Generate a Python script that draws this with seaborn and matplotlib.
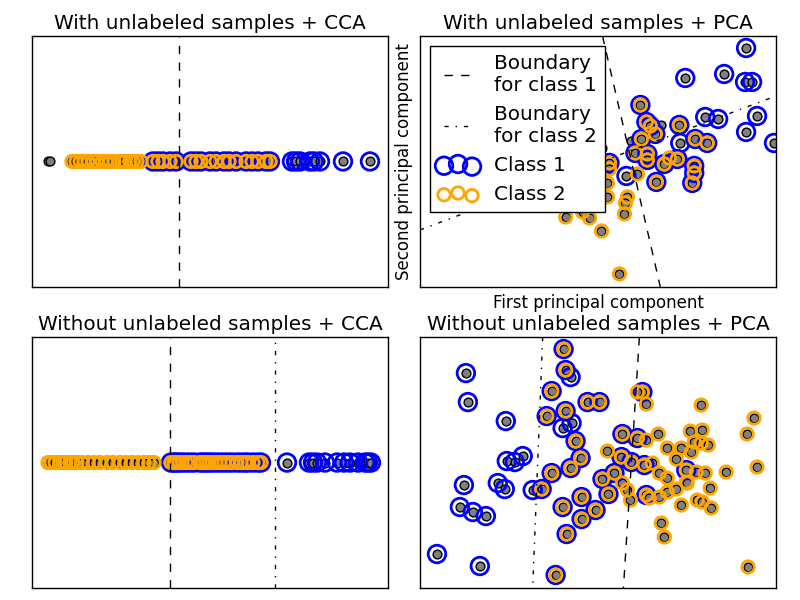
import numpy as np
import matplotlib
matplotlib.use("Agg")
import matplotlib.pyplot as plt
import seaborn as sns

plt.style.use("classic")

# ---- With unlabeled samples + CCA (1-D projection) ----
tl_x = [48, 50,
        72, 76, 80, 84, 88, 93, 97, 102, 106, 110, 114, 119, 122, 125, 130, 133, 137, 141,
        153, 158, 163, 170, 176, 191, 196, 201, 210, 216, 224, 229, 236, 246, 252, 258, 266, 270,
        292, 296, 300, 310, 314, 320, 343, 370]
tl_c1 = [0] * 2 + [0] * 18 + [1] * 18 + [1] * 8
tl_c2 = [0] * 2 + [1] * 18 + [1] * 18 + [0] * 8
tl_bound1 = 179

# ---- With unlabeled samples + PCA ----
tr_x = [747, 686, 725, 746, 753, 641, 647, 651, 662, 656, 680, 706, 719, 758, 747, 775,
        681, 696, 708, 642, 632, 636, 648, 648, 665, 670, 678, 627, 638, 657, 695, 695,
        693, 610, 610, 608, 608, 628, 626, 625, 603, 600, 566, 583, 590, 602, 620,
        560, 575, 590, 540, 500]
tr_y = [48, 78, 74, 82, 82, 105, 122, 126, 125, 134, 125, 117, 119, 116, 132, 143,
        143, 139, 143, 139, 141, 153, 154, 160, 164, 158, 159, 176, 174, 182, 166, 173,
        183, 163, 169, 183, 197, 197, 203, 214, 148, 110, 217, 212, 218, 231, 274,
        205, 195, 180, 150, 190]
tr_c1 = [1, 1, 1, 1, 1, 1, 1, 1, 0, 1, 1, 1, 1, 1, 1, 1,
         1, 1, 1, 1, 0, 1, 1, 1, 1, 0, 1, 1, 0, 1, 1, 1,
         1, 1, 0, 0, 0, 0, 0, 0, 0, 0, 0, 0, 0, 0, 0,
         0, 0, 0, 0, 0]
tr_c2 = [0, 0, 0, 0, 0, 1, 1, 1, 0, 1, 1, 0, 0, 0, 0, 0,
         0, 1, 1, 1, 0, 1, 1, 1, 1, 1, 1, 0, 1, 1, 1, 1,
         1, 1, 1, 1, 1, 1, 1, 1, 0, 0, 1, 1, 1, 1, 1,
         1, 1, 0, 1, 0]
tr_bound1_x = [603, 661]
tr_bound1_y = [36, 287]
tr_bound2_x = [420, 777]
tr_bound2_y = [230, 96]

# ---- Without unlabeled samples + CCA (1-D projection) ----
bl_x = [48, 51, 55, 60, 64, 66, 70, 73, 77, 82, 88, 94, 100, 107, 113, 120, 126, 132, 138, 144, 149, 154,
        171, 174, 176, 179, 182, 186, 190, 194, 200, 203, 206, 209, 212, 216, 220, 224, 228, 232,
        237, 241, 245, 248, 253, 258, 261,
        287, 309, 313, 317, 325, 337, 344, 350, 358, 365, 368, 371]
bl_c1 = [0] * 22 + [1] * 25 + [1] * 12
bl_c2 = [1] * 22 + [1] * 25 + [0] * 12
bl_bound1 = 170
bl_bound2 = 275

# ---- Without unlabeled samples + PCA ----
br_x = [466, 468, 506, 507, 515, 523, 498, 505, 464, 460, 473, 486, 437, 480, 533, 563, 572, 571,
        564, 566, 552, 588, 600, 547, 566, 576, 581, 571, 552, 542, 582, 563, 582, 596, 567,
        556, 609, 603, 615, 623, 638, 622, 632, 643, 645, 647, 687,
        638, 647, 647, 659, 608, 623, 628, 631, 653, 660, 668, 668, 677, 682, 691, 703, 692,
        695, 702, 709, 702, 687, 697, 706, 711, 688, 677, 668, 660, 650, 682, 698, 703, 712,
        727, 662, 665, 748, 755, 758, 749]
br_y = [373, 402, 421, 461, 462, 456, 483, 489, 485, 507, 512, 516, 554, 566, 490, 428, 423, 377,
        349, 370, 391, 402, 402, 416, 411, 441, 458, 468, 473, 489, 497, 507, 519, 510, 534,
        575, 494, 479, 473, 434, 438, 457, 462, 392, 465, 495, 470,
        392, 404, 440, 434, 451, 483, 490, 500, 463, 473, 448, 478, 459, 448, 431, 430, 452,
        442, 443, 445, 405, 482, 472, 473, 488, 483, 489, 492, 497, 498, 505, 500, 502, 508,
        472, 523, 537, 434, 418, 467, 567]
br_c1 = [1] * 18 + [1] * 29 + [0] * 41
br_c2 = [0] * 18 + [1] * 29 + [1] * 41
br_bound1_x = [640, 624]
br_bound1_y = [337, 588]
br_bound2_x = [543, 533]
br_bound2_y = [337, 588]


def draw_points(ax, x, y, c1, c2):
    x = np.asarray(x)
    y = np.asarray(y)
    m1 = np.asarray(c1) == 1
    m2 = np.asarray(c2) == 1
    sns.scatterplot(x=x, y=y, ax=ax, s=40, color="gray", edgecolor="k", linewidth=1)
    sns.scatterplot(x=x[m1], y=y[m1], ax=ax, s=160, facecolor="none",
                    edgecolor="b", linewidth=2, label="Class 1")
    sns.scatterplot(x=x[m2], y=y[m2], ax=ax, s=80, facecolor="none",
                    edgecolor="orange", linewidth=2, label="Class 2")


fig, axes = plt.subplots(2, 2, figsize=(8, 6), dpi=100, facecolor="white")
plt.subplots_adjust(.04, .02, .97, .94, .09, .2)

# top left
ax = axes[0, 0]
draw_points(ax, tl_x, np.zeros(len(tl_x)), tl_c1, tl_c2)
ax.axvline(tl_bound1, color="k", linestyle="--")
ax.set_xlim(32, 388)
ax.set_ylim(-1, 1)
ax.set_title("With unlabeled samples + CCA")

# top right
ax = axes[0, 1]
ax.plot(tr_bound1_x, tr_bound1_y, "k--", label="Boundary\nfor class 1")
ax.plot(tr_bound2_x, tr_bound2_y, "k-.", label="Boundary\nfor class 2")
draw_points(ax, tr_x, tr_y, tr_c1, tr_c2)
ax.set_xlim(420, 777)
ax.set_ylim(287, 36)
ax.set_title("With unlabeled samples + PCA")
ax.set_xlabel("First principal component")
ax.set_ylabel("Second principal component")
ax.legend(loc="upper left")

# bottom left
ax = axes[1, 0]
draw_points(ax, bl_x, np.zeros(len(bl_x)), bl_c1, bl_c2)
ax.axvline(bl_bound1, color="k", linestyle="--")
ax.axvline(bl_bound2, color="k", linestyle="-.")
ax.set_xlim(32, 388)
ax.set_ylim(-1, 1)
ax.set_title("Without unlabeled samples + CCA")

# bottom right
ax = axes[1, 1]
ax.plot(br_bound1_x, br_bound1_y, "k--")
ax.plot(br_bound2_x, br_bound2_y, "k-.")
draw_points(ax, br_x, br_y, br_c1, br_c2)
ax.set_xlim(420, 777)
ax.set_ylim(588, 337)
ax.set_title("Without unlabeled samples + PCA")

for a in axes.flat:
    a.set_xticks([])
    a.set_yticks([])
    if a is not axes[0, 1]:
        leg = a.get_legend()
        if leg is not None:
            leg.remove()
        a.set_xlabel("")
        a.set_ylabel("")

fig.savefig("out.png", dpi=100, facecolor="white")
